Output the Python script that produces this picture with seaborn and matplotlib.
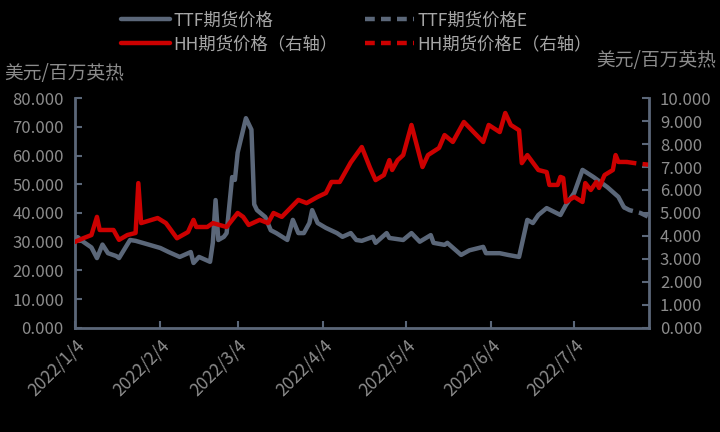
import matplotlib
matplotlib.use("Agg")
import matplotlib.pyplot as plt
import seaborn as sns
import pandas as pd

# ---- data ----
ttf_dates = ["2022-01-04", "2022-01-05", "2022-01-07", "2022-01-10", "2022-01-12", "2022-01-14",
             "2022-01-16", "2022-01-19", "2022-01-20", "2022-01-24", "2022-01-26", "2022-01-30",
             "2022-02-04", "2022-02-07", "2022-02-11", "2022-02-15", "2022-02-16", "2022-02-18",
             "2022-02-22", "2022-02-23", "2022-02-24", "2022-02-25", "2022-02-27", "2022-02-28",
             "2022-03-02", "2022-03-03", "2022-03-04", "2022-03-07", "2022-03-09", "2022-03-10",
             "2022-03-11", "2022-03-14", "2022-03-16", "2022-03-18", "2022-03-22", "2022-03-24",
             "2022-03-26", "2022-03-28", "2022-03-30", "2022-03-31", "2022-04-02", "2022-04-05",
             "2022-04-09", "2022-04-11", "2022-04-14", "2022-04-16", "2022-04-18", "2022-04-22",
             "2022-04-23", "2022-04-27", "2022-04-28", "2022-05-03", "2022-05-06", "2022-05-09",
             "2022-05-13", "2022-05-14", "2022-05-18", "2022-05-19", "2022-05-24", "2022-05-27",
             "2022-06-01", "2022-06-02", "2022-06-07", "2022-06-10", "2022-06-14", "2022-06-17",
             "2022-06-19", "2022-06-21", "2022-06-24", "2022-06-29", "2022-07-01", "2022-07-04",
             "2022-07-07", "2022-07-11", "2022-07-16", "2022-07-20", "2022-07-22"]
ttf_values = [30.5, 31.6, 30.0, 28.0, 24.3, 29.0,
              26.0, 25.0, 24.3, 30.6, 30.3, 29.2,
              27.8, 26.4, 24.7, 26.4, 22.6, 24.7,
              23.0, 29.6, 44.5, 30.6, 31.7, 33.0,
              52.5, 51.5, 61.0, 73.0, 69.0, 43.0,
              41.0, 38.6, 34.0, 33.0, 30.6, 37.6,
              33.0, 33.0, 36.5, 41.0, 36.5, 34.8,
              33.0, 31.7, 33.0, 30.6, 30.3, 31.7,
              29.6, 33.0, 31.3, 30.6, 33.0, 30.0,
              32.3, 29.6, 28.9, 29.6, 25.4, 27.0,
              28.2, 26.0, 26.0, 25.4, 24.7, 37.6,
              36.5, 39.3, 41.7, 39.3, 42.8, 47.0,
              55.0, 52.5, 49.0, 45.6, 42.0]

ttf_e_dates = ["2022-07-22", "2022-07-24", "2022-07-28", "2022-07-31"]
ttf_e_values = [42.0, 41.0, 40.0, 38.6]

hh_dates = ["2022-01-04", "2022-01-07", "2022-01-10", "2022-01-12", "2022-01-13", "2022-01-18",
            "2022-01-19", "2022-01-20", "2022-01-23", "2022-01-26", "2022-01-27", "2022-01-28",
            "2022-02-03", "2022-02-06", "2022-02-10", "2022-02-14", "2022-02-16", "2022-02-17",
            "2022-02-21", "2022-02-23", "2022-02-28", "2022-03-04", "2022-03-06", "2022-03-08",
            "2022-03-12", "2022-03-15", "2022-03-17", "2022-03-20", "2022-03-26", "2022-03-29",
            "2022-04-02", "2022-04-05", "2022-04-07", "2022-04-10", "2022-04-14", "2022-04-18",
            "2022-04-21", "2022-04-23", "2022-04-26", "2022-04-28", "2022-04-29", "2022-05-01",
            "2022-05-03", "2022-05-06", "2022-05-10", "2022-05-12", "2022-05-16", "2022-05-18",
            "2022-05-21", "2022-05-25", "2022-06-01", "2022-06-03", "2022-06-07", "2022-06-09",
            "2022-06-11", "2022-06-14", "2022-06-15", "2022-06-17", "2022-06-21", "2022-06-24",
            "2022-06-25", "2022-06-28", "2022-06-29", "2022-06-30", "2022-07-01", "2022-07-04",
            "2022-07-07", "2022-07-08", "2022-07-10", "2022-07-12", "2022-07-13", "2022-07-15",
            "2022-07-18", "2022-07-19", "2022-07-20", "2022-07-23"]
hh_values = [3.74, 3.90, 4.04, 4.83, 4.26, 4.26,
             4.04, 3.83, 4.04, 4.13, 6.30, 4.56,
             4.78, 4.56, 3.90, 4.17, 4.70, 4.39,
             4.39, 4.56, 4.39, 5.00, 4.83, 4.48,
             4.70, 4.56, 5.00, 4.83, 5.57, 5.43,
             5.70, 5.87, 6.35, 6.35, 7.20, 7.87,
             6.96, 6.43, 6.65, 7.30, 6.87, 7.30,
             7.52, 8.83, 7.00, 7.52, 7.83, 8.39,
             8.09, 8.96, 8.09, 8.83, 8.52, 9.35,
             8.83, 8.60, 7.17, 7.52, 6.87, 6.78,
             6.22, 6.22, 6.57, 6.52, 5.48, 5.70,
             5.48, 6.30, 6.00, 6.35, 6.09, 6.65,
             6.87, 7.52, 7.22, 7.22]

hh_e_dates = ["2022-07-23", "2022-07-27", "2022-07-31"]
hh_e_values = [7.22, 7.15, 7.10]

left_ticks = [0, 10, 20, 30, 40, 50, 60, 70, 80]
right_ticks = [0, 1, 2, 3, 4, 5, 6, 7, 8, 9, 10]
x_tick_dates = ["2022-01-04", "2022-02-04", "2022-03-04", "2022-04-04",
                "2022-05-04", "2022-06-04", "2022-07-04"]

labels = ["TTF期货价格", "HH期货价格（右轴）", "TTF期货价格E", "HH期货价格E（右轴）"]
unit = "美元/百万英热"

# ---- styling ----
sns.set_theme(style="dark")
plt.rcParams["font.family"] = ["Noto Sans CJK SC", "DejaVu Sans"]

BG = "#000000"
GRAY = "#5b6779"
RED = "#cc0000"
TXT = "#8c8c8c"
LEG = "#a6a6a6"

fig = plt.figure(figsize=(7.2, 4.32), dpi=100, facecolor=BG)
ax = fig.add_axes([0.104, 0.241, 0.797, 0.532])
ax.set_facecolor(BG)
ax2 = ax.twinx()

ttf = pd.DataFrame({"date": pd.to_datetime(ttf_dates), "v": ttf_values})
ttf_e = pd.DataFrame({"date": pd.to_datetime(ttf_e_dates), "v": ttf_e_values})
hh = pd.DataFrame({"date": pd.to_datetime(hh_dates), "v": hh_values})
hh_e = pd.DataFrame({"date": pd.to_datetime(hh_e_dates), "v": hh_e_values})

LW = 3.2
DASH = (2.2, 1.4)
sns.lineplot(data=ttf, x="date", y="v", ax=ax, color=GRAY, lw=LW, legend=False)
sns.lineplot(data=ttf_e, x="date", y="v", ax=ax, color=GRAY, lw=LW, legend=False)
ax.lines[-1].set_dashes(DASH)
sns.lineplot(data=hh, x="date", y="v", ax=ax2, color=RED, lw=LW, legend=False)
sns.lineplot(data=hh_e, x="date", y="v", ax=ax2, color=RED, lw=LW, legend=False)
ax2.lines[-1].set_dashes(DASH)
for ln in ax.lines + ax2.lines:
    ln.set_solid_joinstyle("round")
    ln.set_dash_capstyle("butt")

xmin = pd.Timestamp("2022-01-04")
xmax = pd.Timestamp("2022-07-31")
ax.set_xlim(xmin, xmax)
ax.set_ylim(0, 80)
ax2.set_ylim(0, 10)
ax.set_yticks(left_ticks)
ax2.set_yticks(right_ticks)
ax.set_yticklabels([f"{v:.3f}" for v in left_ticks])
ax2.set_yticklabels([f"{v:.3f}" for v in right_ticks])
xt = pd.to_datetime(x_tick_dates)
ax.set_xticks(xt)
ax.set_xticklabels([f"{d.year}/{d.month}/{d.day}" for d in xt], rotation=45,
                   ha="right", rotation_mode="anchor")
ax.set_xlabel("")
ax.set_ylabel("")
ax2.set_ylabel("")
ax.grid(False)
ax2.grid(False)

for a in (ax, ax2):
    for s in a.spines.values():
        s.set_visible(False)
ax.spines["left"].set_visible(True)
ax.spines["bottom"].set_visible(True)
ax2.spines["right"].set_visible(True)
for s in (ax.spines["left"], ax.spines["bottom"], ax2.spines["right"]):
    s.set_color(GRAY)
    s.set_linewidth(2.0)

ax.tick_params(axis="both", direction="in", length=5, width=1.5, color=GRAY,
               labelcolor=TXT, labelsize=12, pad=8)
ax.tick_params(axis="x", pad=6, labelsize=12.5)
ax2.tick_params(axis="y", direction="in", length=5, width=1.5, color=GRAY,
                labelcolor=TXT, labelsize=12, pad=8)
ax.tick_params(left=True, bottom=True)
ax2.tick_params(right=True)

fig.text(0.006, 0.805, unit, color=TXT, fontsize=13.5, ha="left", va="bottom")
fig.text(0.995, 0.835, unit, color=TXT, fontsize=13.5, ha="right", va="bottom")

handles = [ax.lines[0], ax2.lines[0], ax.lines[1], ax2.lines[1]]
leg = fig.legend(handles, labels, loc="upper center", bbox_to_anchor=(0.495, 1.01),
                 ncol=2, frameon=False, fontsize=12.5, labelcolor=LEG,
                 handlelength=2.8, columnspacing=1.6, handletextpad=0.2,
                 labelspacing=0.35)

fig.savefig("out.png", dpi=100, facecolor=BG)
